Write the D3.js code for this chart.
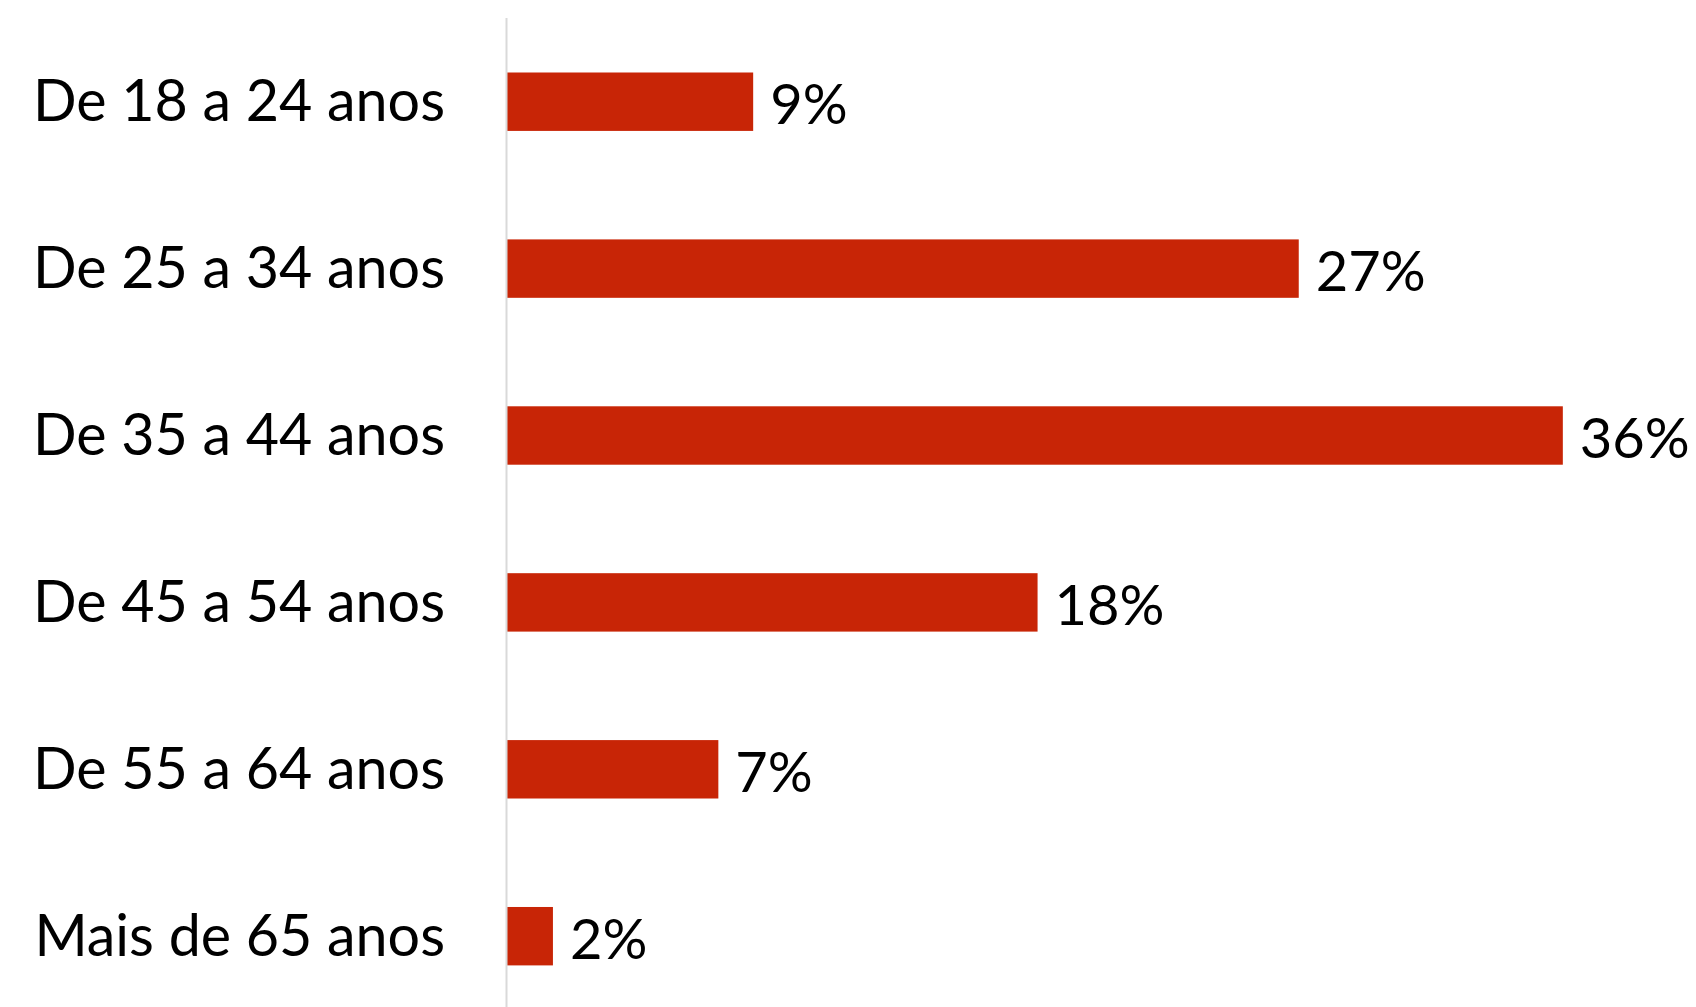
<!DOCTYPE html>
<html>
<head>
<meta charset="utf-8">
<script src="https://cdn.jsdelivr.net/npm/d3@7"></script>
<style>
  html, body { margin: 0; padding: 0; background: #ffffff; }
  svg { display: block; }
  text { font-family: Lato, "Noto Sans", sans-serif; fill: #000000; }
</style>
</head>
<body>
<svg id="chart" width="1696" height="1007"></svg>
<script>
const categories = ["De 18 a 24 anos", "De 25 a 34 anos", "De 35 a 44 anos", "De 45 a 54 anos", "De 55 a 64 anos", "Mais de 65 anos"];
const values = [8.5, 27.3, 36.4, 18.3, 7.3, 1.6];
const valueLabels = ["9%", "27%", "36%", "18%", "7%", "2%"];

const svg = d3.select("#chart");
const W = 1696, H = 1007;
const x0 = 506.5;

const x = d3.scaleLinear().domain([0, 40]).range([x0, x0 + 40 * 29.02]);
const y = d3.scaleBand().domain(categories).range([72.5, 965.4]).paddingInner(0.65).paddingOuter(0);

const bars = svg.append("g");
bars.selectAll("rect").data(categories).join("rect")
  .attr("x", x(0))
  .attr("y", d => y(d))
  .attr("width", (d, i) => x(values[i]) - x(0))
  .attr("height", y.bandwidth())
  .attr("fill", "#C82506");

// axis line
svg.append("line")
  .attr("x1", x0).attr("x2", x0)
  .attr("y1", 18).attr("y2", H)
  .attr("stroke", "#d9d9d9").attr("stroke-width", 2);

// category labels
svg.append("g").selectAll("text").data(categories).join("text")
  .attr("x", 445)
  .attr("y", d => y(d) + y.bandwidth() / 2 + 19.5)
  .attr("text-anchor", "end")
  .attr("font-size", 57.4)
  .text(d => d);

// value labels
svg.append("g").selectAll("text").data(categories).join("text")
  .attr("x", (d, i) => x(values[i]) + 17)
  .attr("y", d => y(d) + y.bandwidth() / 2 + 22.5)
  .attr("text-anchor", "start")
  .attr("font-size", 56)
  .text((d, i) => valueLabels[i]);
</script>
</body>
</html>
